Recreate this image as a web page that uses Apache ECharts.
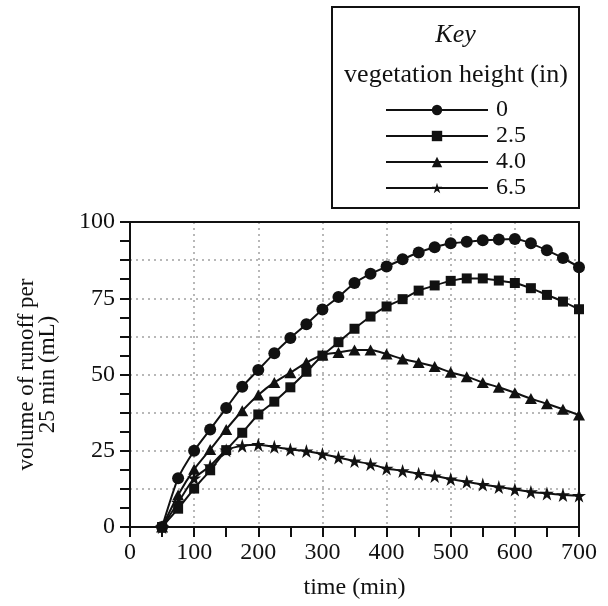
<!DOCTYPE html>
<html>
<head>
<meta charset="utf-8">
<script src="https://cdn.jsdelivr.net/npm/echarts@6/dist/echarts.min.js"></script>
<style>
html,body{margin:0;padding:0;background:#fff;}
#chart{width:608px;height:606px;}
</style>
</head>
<body>
<div id="chart"></div>
<script>
var times = [50,75,100,125,150,175,200,225,250,275,300,325,350,375,400,425,450,475,500,525,550,575,600,625,650,675,700];
var h0   = [0,16,25,32,39,46,51.5,57,62,66.5,71.3,75.4,80,83,85.4,87.8,90,91.7,93,93.5,94,94.3,94.4,93,90.7,88.2,85.2];
var h25  = [0,6,12.6,18.6,25.2,30.9,36.9,41.1,45.8,50.9,56.2,60.6,65,69,72.3,74.7,77.5,79.2,80.7,81.5,81.5,80.8,80,78.3,76.1,73.9,71.4];
var h40  = [0,10.5,18.9,25.4,32,38.1,43.3,47.4,50.6,53.9,56.4,57.2,58,58,56.7,55.1,53.9,52.6,50.7,49.3,47.4,45.8,44,42.1,40.4,38.6,36.7];
var h65  = [0,8,16,20,25.2,26.6,27,26.3,25.4,24.9,23.9,22.8,21.6,20.6,19.2,18.4,17.5,16.7,15.7,14.8,13.9,13.1,12.3,11.5,11,10.5,10.3];
var seriesNames = ['0','2.5','4.0','6.5'];
var xTicks = [0,100,200,300,400,500,600,700];
var yTicks = [0,25,50,75,100];

var FONT = 'Liberation Serif';
var STAR = 'path://M50,0 L61.2,34.5 L97.6,34.5 L68.2,55.9 L79.4,90.5 L50,69.1 L20.6,90.5 L31.8,55.9 L2.4,34.5 L38.8,34.5 Z';

function pairs(vals){ return times.map(function(t,i){ return [t, vals[i]]; }); }

var chart = echarts.init(document.getElementById('chart'), null, {renderer:'canvas'});
var symbols = ['circle','rect','triangle',STAR];
var sizes = [12,10,[12,11],14];
var data = [h0,h25,h40,h65];

var series = seriesNames.map(function(n,i){
  return {
    name: n, type: 'line', xAxisIndex: 0, yAxisIndex: 0,
    data: pairs(data[i]),
    symbol: symbols[i], symbolSize: sizes[i],
    showSymbol: true,
    smooth: 0.2,
    lineStyle: {color:'#111', width:2},
    itemStyle: {color:'#111'},
    z: 10
  };
});

var option = {
  animation: false,
  backgroundColor: '#fff',
  textStyle: {fontFamily: FONT},
  grid: {left:130, right:29, top:222, bottom:79, containLabel:false},
  graphic: [
    {type:'rect', shape:{x:332, y:7, width:247, height:201}, style:{fill:'none', stroke:'#111', lineWidth:2}, z:1},
    {type:'text', x:455.5, y:35, style:{text:'Key', fontFamily:FONT, fontStyle:'italic', fontSize:26, fill:'#111', textAlign:'center', textVerticalAlign:'middle'}},
    {type:'text', x:456, y:75, style:{text:'vegetation height (in)', fontFamily:FONT, fontSize:26, fill:'#111', textAlign:'center', textVerticalAlign:'middle'}}
  ],
  legend: {
    show: true, orient: 'vertical', left: 380, top: 93,
    itemWidth: 102, itemHeight: 13, itemGap: 2,
    textStyle: {fontFamily: FONT, fontSize: 24, color:'#111', padding:[0,0,0,3]},
    data: seriesNames
  },
  xAxis: [
    {
      type:'value', position:'bottom', min:0, max:700, interval:100, z:5,
      axisLine:{show:true, onZero:false, lineStyle:{color:'#111', width:2}},
      axisTick:{show:true, inside:false, length:10, lineStyle:{color:'#111', width:2}},
      minorTick:{show:true, splitNumber:2, length:10, lineStyle:{color:'#111', width:2}},
      axisLabel:{show:true, margin:14, fontFamily:FONT, fontSize:24, color:'#111',
        formatter:function(v){ return xTicks.indexOf(v)>=0 ? String(v) : ''; }},
      splitLine:{show:false},
      name:'time (min)', nameLocation:'middle', nameGap:49,
      nameTextStyle:{fontFamily:FONT, fontSize:24, color:'#111'}
    },
    {
      type:'value', position:'top', min:0, max:700, interval:100, z:5,
      axisLine:{show:true, onZero:false, lineStyle:{color:'#111', width:2}},
      axisTick:{show:false}, axisLabel:{show:false}, splitLine:{show:false}
    },
    {
      type:'value', position:'bottom', min:0, max:700, interval:100, z:0,
      axisLine:{show:false}, axisTick:{show:false}, axisLabel:{show:false},
      splitLine:{show:true, lineStyle:{color:'#b8b8b8', width:2, type:[2,4]}}
    }
  ],
  yAxis: [
    {
      type:'value', position:'left', min:0, max:100, interval:25, z:5,
      axisLine:{show:true, onZero:false, lineStyle:{color:'#111', width:2}},
      axisTick:{show:true, inside:false, length:10, lineStyle:{color:'#111', width:2}},
      minorTick:{show:true, splitNumber:4, length:10, lineStyle:{color:'#111', width:2}},
      axisLabel:{show:true, margin:15, fontFamily:FONT, fontSize:24, color:'#111',
        formatter:function(v){ return yTicks.indexOf(v)>=0 ? String(v) : ''; }},
      splitLine:{show:false},
      name:'volume of runoff per\n25 min (mL)', nameLocation:'middle', nameGap:72,
      nameTextStyle:{fontFamily:FONT, fontSize:23, color:'#111', lineHeight:21}
    },
    {
      type:'value', position:'right', min:0, max:100, interval:25, z:5,
      axisLine:{show:true, onZero:false, lineStyle:{color:'#111', width:2}},
      axisTick:{show:false}, axisLabel:{show:false}, splitLine:{show:false}
    },
    {
      type:'value', position:'left', min:0, max:100, interval:12.5, z:0,
      axisLine:{show:false}, axisTick:{show:false}, axisLabel:{show:false},
      splitLine:{show:true, lineStyle:{color:'#b8b8b8', width:2, type:[2,4]}}
    }
  ],
  series: series
};
chart.setOption(option);
</script>
</body>
</html>
